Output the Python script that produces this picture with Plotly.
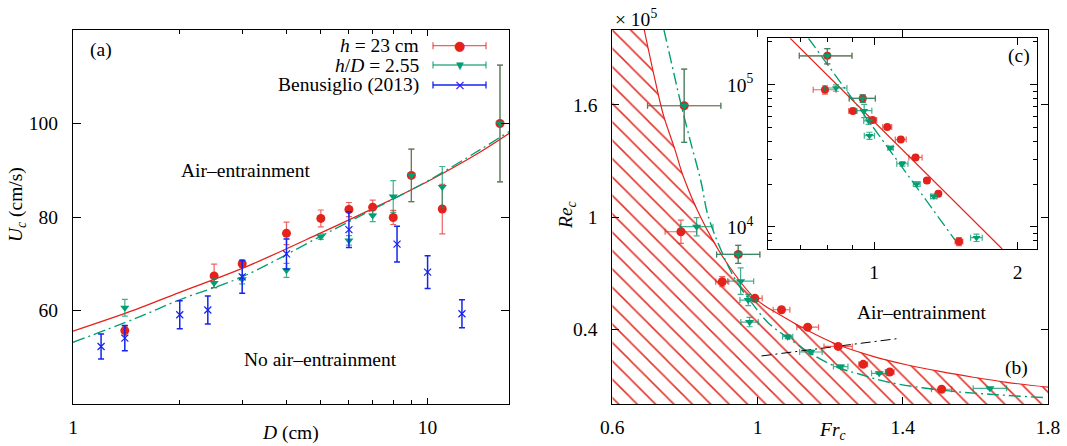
import plotly.graph_objects as go

# ---------------- Panel (a): U_c vs D ----------------
D_h23 = [1.4, 2.5, 3.0, 4.0, 5.0, 6.0, 7.0, 8.0, 9.0, 11.0, 16.0]
U_h23 = [55.7, 67.4, 70.0, 76.5, 79.7, 81.6, 82.1, 79.9, 88.9, 81.7, 100.0]
U_h23_err = [1.0, 2.5, 0.8, 2.4, 1.8, 1.5, 1.5, 1.5, 5.6, 5.3, 12.5]

D_hD = [1.4, 2.5, 3.0, 4.0, 5.0, 6.0, 7.0, 8.0, 9.0, 11.0, 16.0]
U_hD = [60.6, 65.9, 66.7, 68.6, 75.8, 75.0, 80.3, 84.4, 88.9, 86.4, 100.0]
U_hD_err = [1.8, 1.0, 1.0, 1.5, 0.6, 1.0, 1.3, 3.4, 5.6, 4.4, 12.5]

D_ben = [1.2, 1.4, 2.0, 2.4, 3.0, 4.0, 6.0, 8.2, 10.0, 12.5]
U_ben = [52.3, 54.1, 59.1, 60.1, 67.2, 72.1, 77.3, 74.2, 68.2, 59.3]
U_ben_err = [2.7, 2.7, 3.0, 3.0, 3.5, 3.2, 3.8, 3.8, 3.5, 3.0]

D_fit = [1.0, 1.5, 2.0, 3.0, 5.0, 7.0, 10.0, 14.0, 17.0]
U_fit_h23 = [55.6, 60.2, 63.9, 69.0, 76.6, 81.8, 87.6, 93.8, 97.9]
U_fit_hD = [53.2, 58.3, 62.3, 67.2, 75.9, 81.6, 87.7, 94.3, 98.3]

# ---------------- Panel (b)/(c): Re_c vs Fr_c (Re in 1e5) ----------------
Fr_h23 = [0.798, 0.789, 0.9028, 0.9468, 0.9928, 1.066, 1.138, 1.222, 1.291, 1.364, 1.507]
Re_h23 = [1.595, 0.921, 0.654, 0.800, 0.565, 0.504, 0.411, 0.308, 0.212, 0.171, 0.079]
Fr_h23_err = [0.101, 0.0436, 0.018, 0.0596, 0.020, 0.023, 0.030, 0.039, 0.012, 0.012, 0.028]
Re_h23_err = [0.196, 0.062, 0.027, 0.048, 0.010, 0.010, 0.010, 0.008, 0.008, 0.006, 0.005]

Fr_hD = [0.798, 0.8323, 0.9468, 0.9534, 0.9744, 0.978, 1.083, 1.147, 1.229, 1.335, 1.640]
Re_hD = [1.595, 0.948, 0.800, 0.657, 0.556, 0.438, 0.360, 0.278, 0.200, 0.164, 0.084]
Fr_hD_err = [0.101, 0.045, 0.0596, 0.036, 0.023, 0.024, 0.014, 0.031, 0.020, 0.021, 0.046]
Re_hD_err = [0.196, 0.049, 0.048, 0.071, 0.030, 0.025, 0.010, 0.010, 0.008, 0.006, 0.005]

Fr_bound_h23 = [0.688, 0.7175, 0.7404, 0.7726, 0.7954, 0.8442, 0.91, 0.9928, 1.066,
                1.1395, 1.22, 1.318, 1.41, 1.502, 1.594, 1.686, 1.80]
Re_bound_h23 = [2.0, 1.734, 1.547, 1.36, 1.218, 0.996, 0.77, 0.565, 0.472,
                0.392, 0.318, 0.255, 0.210, 0.174, 0.143, 0.116, 0.090]

Fr_bound_hD = [0.7423, 0.7652, 0.7863, 0.8139, 0.8442, 0.8642, 0.915, 0.9468, 0.9837,
               1.029, 1.103, 1.158, 1.222, 1.282, 1.364, 1.502, 1.64, 1.791]
Re_bound_hD = [2.0, 1.805, 1.627, 1.414, 1.19, 1.004, 0.755, 0.64, 0.542,
               0.435, 0.328, 0.257, 0.195, 0.159, 0.115, 0.075, 0.052, 0.034]

Fr_black = [1.011, 1.387]
Re_black = [0.257, 0.350]

# inset straight (log-log) fits
Fr_inset_h23 = [0.667, 1.857]
Re_inset_h23 = [2.12e5, 7.0e3]
Fr_inset_hD = [0.7285, 1.478]
Re_inset_hD = [2.12e5, 8.1e3]

RED = "#e5211b"
GREEN = "#009e73"
BLUE = "#1424ee"
RED_EB = "rgba(229,33,27,0.7)"
GREEN_EB = "rgba(0,150,105,0.75)"
FONT = "Liberation Serif, Times New Roman, Times, serif"
FS = 19.5

W, H = 1067, 446
L, R, T, B = 73, 19, 30, 42
PW, PH = W - L - R, H - T - B


def P(px, py):
    return dict(x=(px - L) / PW, y=(H - B - py) / PH, xref="paper", yref="paper")


fig = go.Figure()

# ---- panel (a) ----
fig.add_trace(go.Scatter(x=D_fit, y=U_fit_h23, mode="lines", line=dict(color=RED, width=1.3, shape="spline"),
                         xaxis="x", yaxis="y", showlegend=False, hoverinfo="skip"))
fig.add_trace(go.Scatter(x=D_fit, y=U_fit_hD, mode="lines",
                         line=dict(color=GREEN, width=1.3, shape="spline", dash="12px,4px,2px,4px"),
                         xaxis="x", yaxis="y", showlegend=False, hoverinfo="skip"))
fig.add_trace(go.Scatter(x=D_h23, y=U_h23, mode="markers", xaxis="x", yaxis="y",
                         marker=dict(symbol="circle", size=9, color=RED),
                         error_y=dict(type="data", array=U_h23_err, color=RED_EB, thickness=1.2, width=3),
                         showlegend=False))
fig.add_trace(go.Scatter(x=D_hD, y=U_hD, mode="markers", xaxis="x", yaxis="y",
                         marker=dict(symbol="triangle-down", size=8, color=GREEN),
                         error_y=dict(type="data", array=U_hD_err, color=GREEN_EB, thickness=1.2, width=3),
                         showlegend=False))
fig.add_trace(go.Scatter(x=D_ben, y=U_ben, mode="markers", xaxis="x", yaxis="y",
                         marker=dict(symbol="x-thin-open", size=7, color=BLUE, line=dict(width=1.2, color=BLUE)),
                         error_y=dict(type="data", array=U_ben_err, color=BLUE, thickness=1.5, width=3),
                         showlegend=False))

# ---- panel (b) ----
fill_x = [0.6] + Fr_bound_h23 + [1.8, 0.6]
fill_y = [2.0] + Re_bound_h23 + [0.0, 0.0]
fig.add_trace(go.Scatter(x=fill_x, y=fill_y, mode="lines", fill="toself", line=dict(width=0, color=RED),
                         fillcolor="rgba(0,0,0,0)",
                         fillpattern=dict(shape="\\", fgcolor="#e3342b", size=13, solidity=0.12),
                         xaxis="x2", yaxis="y2", showlegend=False, hoverinfo="skip"))
fig.add_trace(go.Scatter(x=Fr_bound_h23, y=Re_bound_h23, mode="lines", line=dict(color=RED, width=1.2, shape="spline"),
                         xaxis="x2", yaxis="y2", showlegend=False, hoverinfo="skip"))
fig.add_trace(go.Scatter(x=Fr_bound_hD, y=Re_bound_hD, mode="lines",
                         line=dict(color=GREEN, width=1.4, shape="spline", dash="12px,4px,2px,4px"),
                         xaxis="x2", yaxis="y2", showlegend=False, hoverinfo="skip"))
fig.add_trace(go.Scatter(x=Fr_black, y=Re_black, mode="lines",
                         line=dict(color="black", width=1.0, dash="10px,4px,2px,4px"),
                         xaxis="x2", yaxis="y2", showlegend=False, hoverinfo="skip"))
fig.add_trace(go.Scatter(x=Fr_h23, y=Re_h23, mode="markers", xaxis="x2", yaxis="y2",
                         marker=dict(symbol="circle", size=9, color=RED),
                         error_x=dict(type="data", array=Fr_h23_err, color=RED_EB, thickness=1.2, width=3),
                         error_y=dict(type="data", array=Re_h23_err, color=RED_EB, thickness=1.2, width=3),
                         showlegend=False))
fig.add_trace(go.Scatter(x=Fr_hD, y=Re_hD, mode="markers", xaxis="x2", yaxis="y2",
                         marker=dict(symbol="triangle-down", size=8, color=GREEN),
                         error_x=dict(type="data", array=Fr_hD_err, color=GREEN_EB, thickness=1.2, width=3),
                         error_y=dict(type="data", array=Re_hD_err, color=GREEN_EB, thickness=1.2, width=3),
                         showlegend=False))

# ---- inset (c) ----
Re_h23_abs = [v * 1e5 for v in Re_h23]
Re_h23_err_abs = [v * 1e5 for v in Re_h23_err]
Re_hD_abs = [v * 1e5 for v in Re_hD]
Re_hD_err_abs = [v * 1e5 for v in Re_hD_err]
fig.add_trace(go.Scatter(x=Fr_inset_h23, y=Re_inset_h23, mode="lines", line=dict(color=RED, width=1.2),
                         xaxis="x3", yaxis="y3", showlegend=False, hoverinfo="skip"))
fig.add_trace(go.Scatter(x=Fr_inset_hD, y=Re_inset_hD, mode="lines",
                         line=dict(color=GREEN, width=1.3, dash="12px,4px,2px,4px"),
                         xaxis="x3", yaxis="y3", showlegend=False, hoverinfo="skip"))
fig.add_trace(go.Scatter(x=Fr_h23, y=Re_h23_abs, mode="markers", xaxis="x3", yaxis="y3",
                         marker=dict(symbol="circle", size=8, color=RED),
                         error_x=dict(type="data", array=Fr_h23_err, color=RED_EB, thickness=1.2, width=3),
                         error_y=dict(type="data", array=Re_h23_err_abs, color=RED_EB, thickness=1.2, width=3),
                         showlegend=False))
fig.add_trace(go.Scatter(x=Fr_hD, y=Re_hD_abs, mode="markers", xaxis="x3", yaxis="y3",
                         marker=dict(symbol="triangle-down", size=7, color=GREEN),
                         error_x=dict(type="data", array=Fr_hD_err, color=GREEN_EB, thickness=1.2, width=3),
                         error_y=dict(type="data", array=Re_hD_err_abs, color=GREEN_EB, thickness=1.2, width=3),
                         showlegend=False))

axis_common = dict(showline=True, linecolor="black", linewidth=1, mirror="ticks", ticks="inside",
                   tickcolor="black", showgrid=False, zeroline=False, automargin=False,
                   tickfont=dict(family=FONT, size=FS, color="black"))

fig.update_layout(
    template="none",
    width=W, height=H,
    margin=dict(l=L, r=R, t=T, b=B, pad=0, autoexpand=False),
    paper_bgcolor="white", plot_bgcolor="white",
    font=dict(family=FONT, size=FS, color="black"),
    showlegend=False,
    xaxis=dict(domain=[0, (509.3 - L) / PW], type="log", range=[0, 1.2304],
               tickvals=[1, 10], ticktext=["1", "10"], ticklen=6, ticklabelstandoff=6,
               minor=dict(tickvals=[2, 3, 4, 5, 6, 7, 8, 9], ticks="inside", ticklen=4, tickcolor="black"),
               anchor="y", **axis_common),
    yaxis=dict(domain=[0, 1], range=[40, 120], tickvals=[60, 80, 100], ticklen=8,
               ticklabelstandoff=10, anchor="x", **axis_common),
    xaxis2=dict(domain=[(612.3 - L) / PW, 1], range=[0.6, 1.8], tickvals=[0.6, 1.0, 1.4, 1.8],
                ticktext=["0.6", "1", "1.4", "1.8"], ticklen=7, ticklabelstandoff=6, anchor="y2", **axis_common),
    yaxis2=dict(domain=[0, 1], range=[0, 2.0], tickvals=[0.4, 1.0, 1.6], ticktext=["0.4", "1", "1.6"],
                ticklen=7, ticklabelstandoff=10, anchor="x2", **axis_common),
    xaxis3=dict(domain=[(768.3 - L) / PW, (1037.3 - L) / PW], type="log", range=[-0.2218, 0.3424],
                tickvals=[1, 2], ticktext=["1", "2"], ticklen=7, ticklabelstandoff=6,
                minor=dict(tickvals=[0.7, 0.8, 0.9], ticks="inside", ticklen=4, tickcolor="black"),
                anchor="y3", **axis_common),
    yaxis3=dict(domain=[(H - B - 249) / PH, (H - B - 38.3) / PH], type="log", range=[3.845, 5.326],
                tickvals=[1e4, 1e5], ticktext=["10<sup>4</sup>", "10<sup>5</sup>"], ticklen=7,
                ticklabelstandoff=10,
                minor=dict(tickvals=[8e3, 9e3, 2e4, 3e4, 4e4, 5e4, 6e4, 7e4, 8e4, 9e4, 2e5],
                           ticks="inside", ticklen=4, tickcolor="black"),
                anchor="x3", **axis_common),
)

ann = []


def text(px, py, s, xanchor="center", yanchor="middle", size=FS, angle=0, color="black", family=FONT):
    d = P(px, py)
    d.update(text=s, showarrow=False, xanchor=xanchor, yanchor=yanchor, textangle=angle,
             font=dict(family=family, size=size, color=color))
    ann.append(d)


text(88, 50, "(a)", xanchor="left")
text(245, 171, "Air\u2013entrainment")
text(320, 359, "No air\u2013entrainment")
text(17, 205, "<i>U<sub>c</sub></i> (cm/s)", angle=-90)
text(290.5, 433, "<i>D</i> (cm)")
text(567, 215, "<i>Re<sub>c</sub></i>", angle=-90)
text(832, 431, "<i>Fr<sub>c</sub></i>")
text(613, 18, "\u00d7 10<sup>5</sup>", xanchor="left")
text(921.7, 312.3, "Air\u2013entrainment")
text(1016, 368, "(b)")
text(1019, 55.7, "(c)")

# legend (gnuplot style: text right, sample on right)
leg = [("<i>h</i> = 23 cm", 45.7, RED, RED_EB, "\u25cf", 13),
       ("<i>h</i>/<i>D</i> = 2.55", 65.0, GREEN, GREEN_EB, "\u25bc", 10),
       ("Benusiglio (2013)", 85.0, BLUE, BLUE, "\u00d7", 14)]
shapes = []
for label, py, col, ebcol, glyph, gsize in leg:
    text(421, py, label, xanchor="right")
    x0, x1 = 433, 486
    a, b = P(x0, py), P(x1, py)
    shapes.append(dict(type="line", xref="paper", yref="paper", x0=a["x"], x1=b["x"], y0=a["y"], y1=a["y"],
                       line=dict(color=ebcol, width=1.3)))
    for xx in (x0, x1):
        c0, c1 = P(xx, py - 3.5), P(xx, py + 3.5)
        shapes.append(dict(type="line", xref="paper", yref="paper", x0=c0["x"], x1=c0["x"], y0=c0["y"], y1=c1["y"],
                           line=dict(color=ebcol, width=1.3)))
    text(459.5, py, glyph, size=gsize, color=col, family="DejaVu Sans")

fig.update_layout(annotations=ann, shapes=shapes)

fig.write_html("out.html",
               config={"displayModeBar": False, "staticPlot": True},
               post_script="document.body.style.margin='0';document.body.style.padding='0';"
                           "document.documentElement.style.overflow='hidden';")
